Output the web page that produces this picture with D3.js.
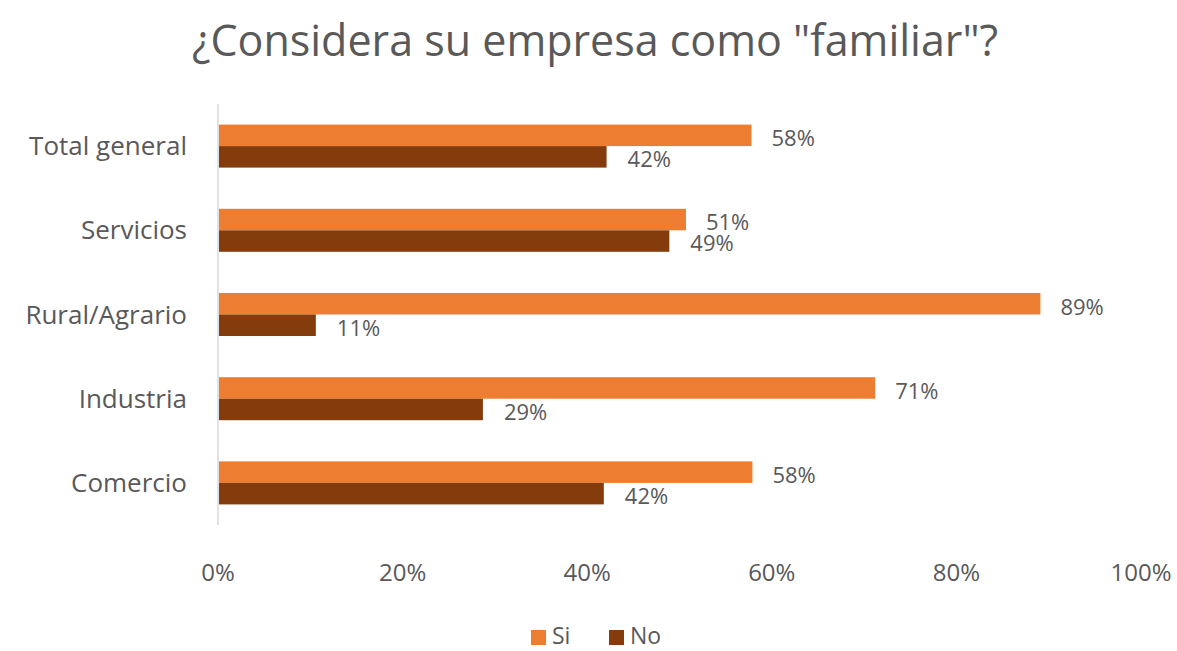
<!DOCTYPE html>
<html>
<head>
<meta charset="UTF-8">
<script src="https://cdnjs.cloudflare.com/ajax/libs/d3/7.8.5/d3.min.js"></script>
<style>
    body { margin: 0; background: #fff; }
    text { font-family: 'Open Sans', sans-serif; fill: #595959; }
</style>
</head>
<body>
<svg id="chart" width="1177" height="651"></svg>
<script>
// data
var categories = ["Total general", "Servicios", "Rural/Agrario", "Industria", "Comercio"];
var siValues = [0.578, 0.507, 0.891, 0.712, 0.579];
var noValues = [0.421, 0.489, 0.106, 0.287, 0.418];
var seriesNames = ["Si", "No"];
var xTicks = [0, 0.2, 0.4, 0.6, 0.8, 1.0];

var colors = { Si: "#ED7D31", No: "#843C0C" };

var svg = d3.select("#chart");

var x = d3.scaleLinear().domain([0, 1]).range([218, 1141]);
var y = d3.scaleBand().domain(categories).range([104, 525]);
var barH = 21.5;

// title
svg.append("text")
    .attr("x", 595).attr("y", 56)
    .attr("text-anchor", "middle")
    .style("font-size", "43px")
    .text('¿Considera su empresa como "familiar"?');

// vertical axis line
svg.append("line")
    .attr("x1", x(0)).attr("x2", x(0))
    .attr("y1", 104).attr("y2", 525)
    .attr("stroke", "#d9d9d9").attr("stroke-width", 1.5);

var rows = categories.map(function (c, i) {
    return { cat: c, si: siValues[i], no: noValues[i] };
});

var g = svg.append("g");

// Si bars
g.selectAll(".si").data(rows).enter().append("rect")
    .attr("x", x(0) + 1)
    .attr("y", function (d) { return y(d.cat) + y.bandwidth() / 2 - barH; })
    .attr("width", function (d) { return x(d.si) - x(0) - 1; })
    .attr("height", barH)
    .attr("fill", colors.Si);

// No bars
g.selectAll(".no").data(rows).enter().append("rect")
    .attr("x", x(0) + 1)
    .attr("y", function (d) { return y(d.cat) + y.bandwidth() / 2; })
    .attr("width", function (d) { return x(d.no) - x(0) - 1; })
    .attr("height", barH)
    .attr("fill", colors.No);

var fmt = d3.format(".0%");

// value labels
g.selectAll(".si-lab").data(rows).enter().append("text")
    .attr("x", function (d) { return x(d.si) + 20; })
    .attr("y", function (d) { return y(d.cat) + y.bandwidth() / 2; })
    .style("font-size", "22px")
    .text(function (d) { return fmt(d.si); });

g.selectAll(".no-lab").data(rows).enter().append("text")
    .attr("x", function (d) { return x(d.no) + 21; })
    .attr("y", function (d) { return y(d.cat) + y.bandwidth() / 2 + 21; })
    .style("font-size", "22px")
    .text(function (d) { return fmt(d.no); });

// category labels
svg.selectAll(".cat").data(categories).enter().append("text")
    .attr("x", 187)
    .attr("y", function (d) { return y(d) + y.bandwidth() / 2; })
    .attr("dy", "0.35em")
    .attr("text-anchor", "end")
    .style("font-size", "26px")
    .text(function (d) { return d; });

// x tick labels
svg.selectAll(".tick-lab").data(xTicks).enter().append("text")
    .attr("x", function (d) { return x(d); })
    .attr("y", 581)
    .attr("text-anchor", "middle")
    .style("font-size", "24px")
    .text(function (d) { return fmt(d); });

// legend
var legend = svg.append("g");
var legX = [531, 609];
seriesNames.forEach(function (s, i) {
    legend.append("rect")
        .attr("x", legX[i]).attr("y", 630)
        .attr("width", 15).attr("height", 15)
        .attr("fill", colors[s]);
    legend.append("text")
        .attr("x", legX[i] + 21).attr("y", 644)
        .style("font-size", "23px")
        .text(s);
});
</script>
</body>
</html>
